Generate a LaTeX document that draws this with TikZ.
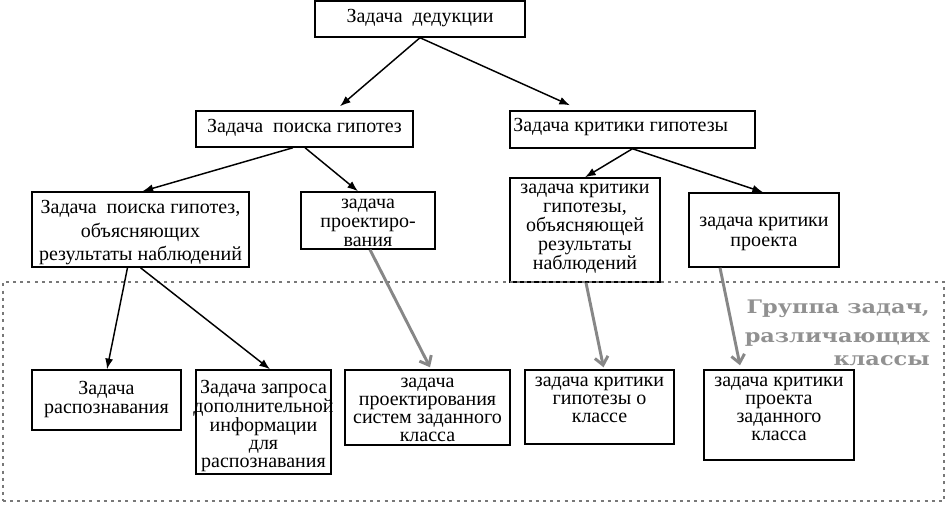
\documentclass[tikz,border=0pt]{standalone}
\usepackage{fontspec}
\setmainfont{Liberation Serif}
\newfontfamily\grpfont[UprightFont={* Bold}, FakeStretch=1.2]{DejaVu Serif}
\usetikzlibrary{arrows.meta,fit}
\definecolor{grayarrow}{RGB}{135,135,135}
\definecolor{graydot}{RGB}{120,120,120}
\definecolor{graytext}{RGB}{145,145,145}
\newcommand\tl[1]{\begin{tabular}[t]{@{}c@{}}#1\end{tabular}}
\tikzset{
  box/.style={draw=black, line width=1.1pt, fill=white, inner sep=0pt},
  txt/.style={inner sep=0pt, anchor=base, font=\fontsize{15pt}{#1}\selectfont},
  txt/.default=13.5pt,
  arr/.style={line width=1.1pt, -{Latex[length=8pt,width=6pt]}},
  garr/.style={line width=2.2pt, draw=grayarrow, -{Straight Barb[length=6pt,width=10pt]}},
  group/.style={draw=graydot, line width=2.2pt, dash pattern=on 2.2pt off 3.2pt, inner sep=0pt},
}
\begin{document}
\begin{tikzpicture}[x=0.75pt,y=-0.75pt]
\useasboundingbox (0,0) rectangle (946,506);
% boxes
\node[box, fit={(315,1) (525,37)}] (A) {};
\node[box, fit={(196,111) (413,147)}] (B) {};
\node[box, fit={(510,111) (755,148)}] (C) {};
\node[box, fit={(32,192) (249,267)}] (D) {};
\node[box, fit={(301,192) (435,249)}] (E) {};
\node[box, fit={(510,178) (660,282)}] (F) {};
\node[box, fit={(689,193) (839,267)}] (G) {};
\node[box, fit={(32,370) (181,430)}] (H) {};
\node[box, fit={(196,370) (331,474)}] (I) {};
\node[box, fit={(345,370) (510,445)}] (J) {};
\node[box, fit={(525,370) (674,444)}] (K) {};
\node[box, fit={(704,370) (854,460)}] (L) {};
% texts
\node[txt] (At) at (420,23) {\tl{Задача\ \ дедукции}};
\node[txt] (Bt) at (304.5,133) {\tl{Задача\ \ поиска гипотез}};
\node[txt, anchor=base west] (Ct) at (513,132) {Задача критики гипотезы};
\node[txt=17.6pt] (Dt) at (140.5,214) {\tl{Задача\ \ поиска гипотез,\\объясняющих\\результаты наблюдений}};
\node[txt=13.9pt] (Et) at (368,209) {\tl{задача\\проектиро-\\вания}};
\node[txt=13.6pt] (Ft) at (585,194) {\tl{задача критики\\гипотезы,\\объясняющей\\результаты\\наблюдений}};
\node[txt=14.25pt] (Gt) at (764,227) {\tl{задача критики\\проекта}};
\node[txt=14.25pt] (Ht) at (106.5,394) {\tl{Задача\\распознавания}};
\node[txt=13.5pt] (It) at (263.5,393) {\tl{Задача запроса\\дополнительной\\информации\\для\\распознавания}};
\node[txt=13.7pt] (Jt) at (427.5,387) {\tl{задача\\проектирования\\систем заданного\\класса}};
\node[txt=13.5pt] (Kt) at (599.5,386) {\tl{задача критики\\гипотезы о\\классе}};
\node[txt=13.5pt] (Lt) at (779,386) {\tl{задача критики\\проекта\\заданного\\класса}};
% group frame
\node[group, fit={(3,282) (944,501)}] (grp) {};
\node[inner sep=0pt, anchor=base east, text=graytext,
      font=\grpfont\fontsize{14pt}{17.25pt}\selectfont] (grplbl) at (930,313)
  {\begin{tabular}[t]{@{}r@{}}Группа задач,\\[5pt]различающих\\классы\end{tabular}};
% black connectors
\draw[arr] (A.south) -- ([shift={(35.5,-4)}]B.north);
\draw[arr] (A.south) -- ([shift={(-62.5,-5)}]C.north);
\draw[arr] ([shift={(-11.5,0)}]B.south) -- ([shift={(2,0)}]D.north);
\draw[arr] ([shift={(0.5,0)}]B.south) -- ([shift={(-10,0)}]E.north);
\draw[arr] (C.south) -- (F.north);
\draw[arr] (C.south) -- ([shift={(-1,0)}]G.north);
\draw[arr] ([shift={(-13,0)}]D.south) -- ([shift={(0.5,0)}]H.north);
\draw[arr] (D.south) -- ([shift={(6.5,0)}]I.north);
% grey connectors
\draw[garr] ([shift={(2,0)}]E.south) -- ([shift={(2.5,-2)}]J.north);
\draw[garr] ([shift={(1,0)}]F.south) -- ([shift={(4,-2)}]K.north);
\draw[garr] ([shift={(-44,0)}]G.south) -- ([shift={(-39,-4)}]L.north);
\end{tikzpicture}
\end{document}
